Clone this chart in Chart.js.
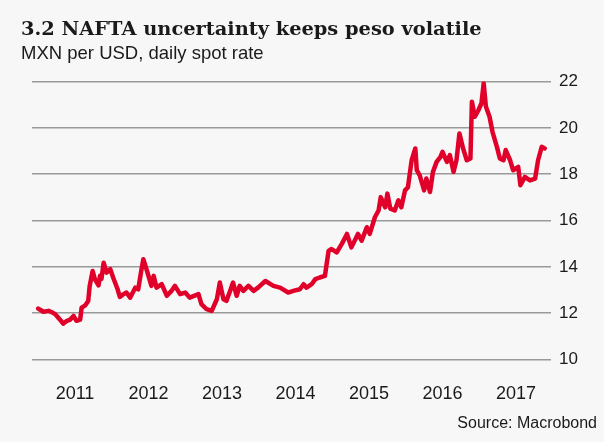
<!DOCTYPE html>
<html>
<head>
<meta charset="utf-8">
<script src="https://cdn.jsdelivr.net/npm/chart.js@4.4.1/dist/chart.umd.min.js"></script>
<style>
  html, body { margin: 0; padding: 0; background: #f7f7f7; }
  #wrap { position: relative; width: 604px; height: 442px; overflow: hidden; }
  #chart { position: absolute; left: 0; top: 0; }
  .txt { position: absolute; white-space: nowrap; color: #1a1a1a; }
  #title { left: 21px; top: 17px; font: bold 19.4px "DejaVu Serif", serif; line-height: 24px; }
  #subtitle { left: 21px; top: 42px; font: 18.5px "Liberation Sans", Arial, sans-serif; line-height: 22px; }
  #source { right: 7px; top: 413px; font: 16px "Liberation Sans", Arial, sans-serif; line-height: 20px; }
</style>
</head>
<body>
<div id="wrap">
  <canvas id="chart" width="604" height="442"></canvas>
  <div class="txt" id="title">3.2 NAFTA uncertainty keeps peso volatile</div>
  <div class="txt" id="subtitle">MXN per USD, daily spot rate</div>
  <div class="txt" id="source">Source: Macrobond</div>
</div>
<script>
// x tick labels (placed mid-year)
const years = [2011, 2012, 2013, 2014, 2015, 2016, 2017];
const yTicks = [10, 12, 14, 16, 18, 20, 22];

// decimal year of each reading
const dates = [
  2011.00, 2011.07, 2011.14, 2011.18, 2011.23, 2011.27, 2011.32, 2011.34, 2011.39, 2011.43,
  2011.48, 2011.52, 2011.57, 2011.59, 2011.64, 2011.68, 2011.70, 2011.74, 2011.77, 2011.82,
  2011.84, 2011.86, 2011.89, 2011.93, 2011.98, 2012.02, 2012.08, 2012.11, 2012.15, 2012.20,
  2012.25, 2012.32, 2012.36, 2012.40, 2012.43, 2012.48, 2012.54, 2012.57, 2012.61, 2012.68,
  2012.75, 2012.81, 2012.86, 2012.93, 2013.00, 2013.06, 2013.18, 2013.22, 2013.29, 2013.36,
  2013.43, 2013.47, 2013.52, 2013.56, 2013.61, 2013.65, 2013.70, 2013.74, 2013.79, 2013.86,
  2013.93, 2013.99, 2014.09, 2014.20, 2014.29, 2014.40, 2014.47, 2014.56, 2014.61, 2014.65,
  2014.72, 2014.77, 2014.83, 2014.90, 2014.95, 2014.99, 2015.06, 2015.13, 2015.20, 2015.26,
  2015.35, 2015.40, 2015.47, 2015.51, 2015.58, 2015.63, 2015.66, 2015.72, 2015.75, 2015.79,
  2015.85, 2015.90, 2015.94, 2015.99, 2016.03, 2016.08, 2016.13, 2016.15, 2016.19, 2016.25,
  2016.28, 2016.33, 2016.37, 2016.42, 2016.47, 2016.50, 2016.56, 2016.60, 2016.65, 2016.69,
  2016.73, 2016.78, 2016.83, 2016.88, 2016.90, 2016.94, 2016.99, 2017.03, 2017.06, 2017.09,
  2017.14, 2017.18, 2017.24, 2017.28, 2017.33, 2017.36, 2017.42, 2017.46, 2017.53, 2017.56,
  2017.62, 2017.69, 2017.76, 2017.80, 2017.85, 2017.89
];

// MXN per USD
const rates = [
  12.20, 12.06, 12.10, 12.05, 11.96, 11.81, 11.63, 11.55, 11.67, 11.71,
  11.88, 11.67, 11.72, 12.24, 12.34, 12.53, 13.18, 13.82, 13.47, 13.20,
  13.61, 13.48, 14.18, 13.75, 13.90, 13.53, 13.03, 12.70, 12.80, 12.89,
  12.67, 13.10, 13.03, 13.80, 14.33, 13.82, 13.18, 13.61, 13.10, 13.25,
  12.75, 12.95, 13.18, 12.82, 12.89, 12.67, 12.82, 12.39, 12.17, 12.10,
  12.60, 13.32, 12.60, 12.53, 12.96, 13.32, 12.75, 13.18, 12.96, 13.18,
  12.96, 13.10, 13.39, 13.18, 13.10, 12.89, 12.96, 13.03, 13.25, 13.10,
  13.25, 13.47, 13.54, 13.61, 14.69, 14.77, 14.62, 14.99, 15.42, 14.84,
  15.42, 15.13, 15.71, 15.42, 16.14, 16.43, 17.01, 16.57, 17.16, 16.51,
  16.43, 16.87, 16.57, 17.30, 17.44, 18.60, 19.11, 18.17, 17.95, 17.30,
  17.81, 17.23, 18.10, 18.53, 18.74, 18.96, 18.53, 18.82, 18.10, 18.60,
  19.76, 19.11, 18.60, 18.68, 21.13, 20.48, 20.77, 21.06, 21.93, 20.92,
  20.48, 19.83, 19.18, 18.68, 18.60, 19.04, 18.60, 18.17, 18.31, 17.52,
  17.88, 17.73, 17.81, 18.60, 19.18, 19.11
];

const family = '"Liberation Sans", Arial, sans-serif';

new Chart(document.getElementById('chart'), {
  type: 'line',
  data: {
    datasets: [{
      data: dates.map((d, i) => ({ x: d, y: rates[i] })),
      borderColor: '#e0002a',
      borderWidth: 4.5,
      pointRadius: 0,
      tension: 0,
      borderJoinStyle: 'round',
      borderCapStyle: 'round'
    }]
  },
  options: {
    responsive: false,
    animation: false,
    layout: { padding: { left: 32, top: 81.5, right: 0, bottom: 0 } },
    plugins: { legend: { display: false }, tooltip: { enabled: false } },
    scales: {
      x: {
        type: 'linear',
        min: 2010.915,
        max: 2017.976,
        grid: { display: false },
        border: { display: false },
        afterBuildTicks: s => { s.ticks = years.map(y => ({ value: y + 0.5 })); },
        afterFit: s => { s.height = 442 - 359.5; },
        ticks: {
          autoSkip: false,
          maxRotation: 0,
          padding: 16,
          color: '#1a1a1a',
          font: { family, size: 18 },
          callback: v => String(Math.floor(v))
        }
      },
      y: {
        position: 'right',
        min: 10,
        max: 22,
        afterBuildTicks: s => { s.ticks = yTicks.map(v => ({ value: v })); },
        afterFit: s => { s.width = 53; },
        grid: { color: '#9a9a9a', lineWidth: 1.4, drawTicks: false },
        border: { display: false },
        ticks: { padding: 8, color: '#1a1a1a', font: { family, size: 17 } }
      }
    }
  }
});
</script>
</body>
</html>
